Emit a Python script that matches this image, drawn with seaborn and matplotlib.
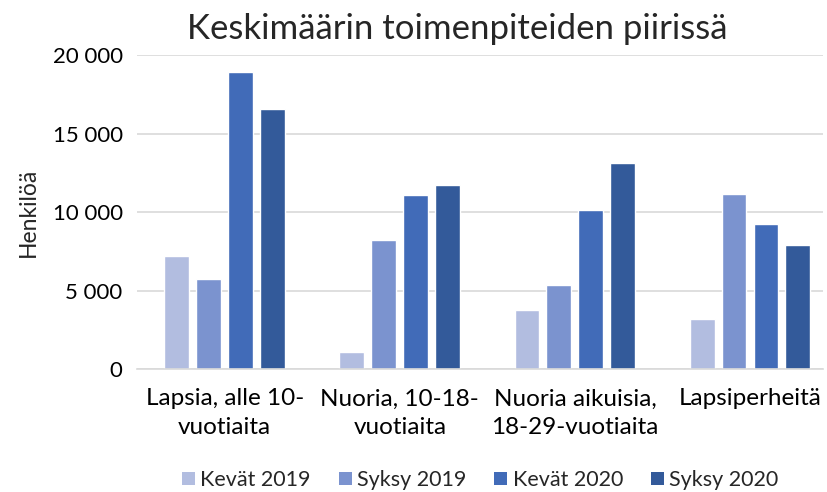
import matplotlib
matplotlib.use("Agg")
import matplotlib.pyplot as plt
import seaborn as sns
import pandas as pd
from matplotlib.ticker import FuncFormatter

categories = ["Lapsia, alle 10-\nvuotiaita", "Nuoria, 10-18-\nvuotiaita",
              "Nuoria aikuisia,\n18-29-vuotiaita", "Lapsiperheitä"]
series = ["Kevät 2019", "Syksy 2019", "Kevät 2020", "Syksy 2020"]
kevat_2019 = [7200, 1100, 3750, 3200]
syksy_2019 = [5750, 8250, 5350, 11150]
kevat_2020 = [18900, 11100, 10150, 9250]
syksy_2020 = [16550, 11750, 13100, 7930]
colors = ["#B2BDE0", "#7B93CF", "#416BB8", "#335A9A"]

rows = []
for s, vals in zip(series, [kevat_2019, syksy_2019, kevat_2020, syksy_2020]):
    for c, v in zip(categories, vals):
        rows.append({"cat": c, "series": s, "value": v})
df = pd.DataFrame(rows)

sns.set_theme(style="white")
plt.rcParams["font.family"] = ["Lato", "DejaVu Sans"]

fig = plt.figure(figsize=(8.28, 4.92), dpi=100)
ax = fig.add_axes([0.165, 0.25, 0.829, 0.638])
sns.barplot(data=df, x="cat", y="value", hue="series", palette=colors,
            width=0.73, ax=ax, legend=True, saturation=1)

# shrink bars to leave white gaps between them
for p in ax.patches:
    w = p.get_width()
    if w > 0:
        nw = w * 0.78
        p.set_x(p.get_x() + (w - nw) / 2)
        p.set_width(nw)

ax.set_ylim(0, 20000)
ax.set_yticks([0, 5000, 10000, 15000, 20000])
ax.yaxis.set_major_formatter(FuncFormatter(lambda v, _: f"{int(v):,}".replace(",", " ")))
ax.grid(axis="y", color="#D9D9D9", linewidth=1.2)
ax.set_axisbelow(True)
for s in ["left", "right", "top"]:
    ax.spines[s].set_visible(False)
ax.spines["bottom"].set_color("#D9D9D9")
ax.spines["bottom"].set_linewidth(1.2)
ax.tick_params(axis="y", length=0, labelsize=16, colors="#000000", pad=10)
ax.tick_params(axis="x", length=0, labelsize=17.5, colors="#000000", pad=14)
for t in ax.get_xticklabels():
    t.set_linespacing(1.45)
ax.set_xlabel("")
ax.set_ylabel("Henkilöä", fontsize=16.5, labelpad=10)
ax.set_xlim(-0.503, 3.417)

handles, labels = ax.get_legend_handles_labels()
ax.get_legend().remove()
leg = fig.legend(handles, labels, loc="center", bbox_to_anchor=(0.58, 0.024), ncol=4,
                 frameon=False, fontsize=15.5, handlelength=0.6, handleheight=0.6,
                 handletextpad=0.25, columnspacing=1.3, borderpad=0)
for h in leg.legend_handles:
    h.set_edgecolor("none")

fig.text(0.552, 0.942, "Keskimäärin toimenpiteiden piirissä", ha="center", va="center",
         fontsize=25)

fig.savefig("out.png", dpi=100)
